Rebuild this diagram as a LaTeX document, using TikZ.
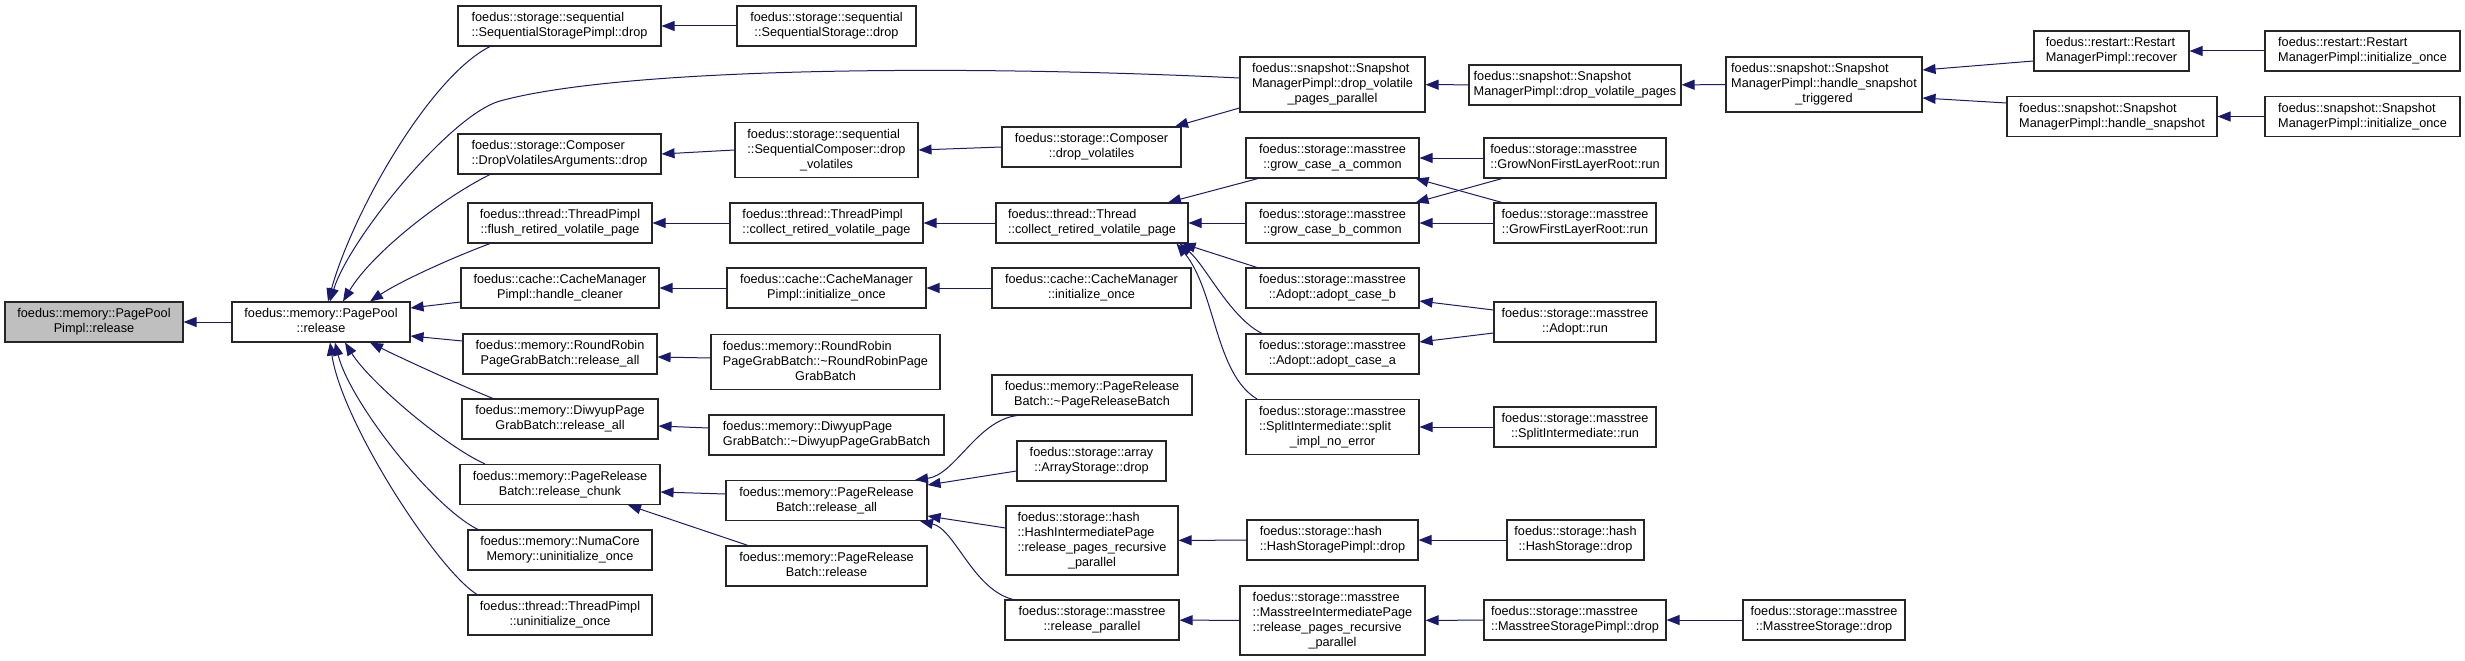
\documentclass[tikz,border=0pt]{standalone}
\usepackage{fontspec}
\setmainfont{Liberation Sans}
\usetikzlibrary{arrows.meta, calc}

\definecolor{edgeblue}{HTML}{191970}
\definecolor{rootgray}{HTML}{BFBFBF}
% all lines left, last line centred (as doxygen sets them)
\newcommand{\fnlabel}[2]{\begin{tabular}{@{}l@{}}#1\\\multicolumn{1}{@{}c@{}}{#2}\end{tabular}}

\begin{document}
\begin{tikzpicture}[x=1pt, y=-1pt,
  every node/.style={font=\fontsize{12.7}{15}\selectfont},
  fn/.style={draw=black!85, line width=1.1pt, fill=white, inner sep=0pt, minimum height=40pt},
  tall/.style={minimum height=55pt},
  taller/.style={minimum height=69pt},
  call/.style={draw=edgeblue, line width=1pt, -{Triangle[length=13pt, width=10pt]}}]
  \useasboundingbox (0,0) rectangle (2465,661);

  % column 0 and 1
  \node[fn, fill=rootgray, minimum width=178pt] (ppimpl) at (94,322) {\fnlabel{foedus::memory::PagePool}{Pimpl::release}};
  \node[fn, minimum width=178pt] (pp) at (321,322) {\fnlabel{foedus::memory::PagePool}{::release}};

  % column 2
  \node[fn, minimum width=203pt] (seqpimpl) at (559.5,26) {\fnlabel{foedus::storage::sequential}{::SequentialStoragePimpl::drop}};
  \node[fn, minimum width=203pt] (dva) at (559.5,154) {\fnlabel{foedus::storage::Composer}{::DropVolatilesArguments::drop}};
  \node[fn, minimum width=184pt] (flush) at (560,223) {\fnlabel{foedus::thread::ThreadPimpl}{::flush\_retired\_volatile\_page}};
  \node[fn, minimum width=198pt] (cleaner) at (560,288) {\fnlabel{foedus::cache::CacheManager}{Pimpl::handle\_cleaner}};
  \node[fn, minimum width=194pt] (rrrel) at (560,354) {\fnlabel{foedus::memory::RoundRobin}{PageGrabBatch::release\_all}};
  \node[fn, minimum width=196pt] (dwrel) at (560,419) {\fnlabel{foedus::memory::DiwyupPage}{GrabBatch::release\_all}};
  \node[fn, minimum width=200pt] (chunk) at (560,484.5) {\fnlabel{foedus::memory::PageRelease}{Batch::release\_chunk}};
  \node[fn, minimum width=184pt] (numa) at (560,550) {\fnlabel{foedus::memory::NumaCore}{Memory::uninitialize\_once}};
  \node[fn, minimum width=184pt] (tpuninit) at (560,615) {\fnlabel{foedus::thread::ThreadPimpl}{::uninitialize\_once}};

  % column 3
  \node[fn, minimum width=179pt] (seqst) at (826.5,26) {\fnlabel{foedus::storage::sequential}{::SequentialStorage::drop}};
  \node[fn, tall, minimum width=183pt] (seqcomp) at (826.5,150) {\fnlabel{foedus::storage::sequential\\::SequentialComposer::drop}{\_volatiles}};
  \node[fn, minimum width=193pt] (tpcollect) at (826.5,223) {\fnlabel{foedus::thread::ThreadPimpl}{::collect\_retired\_volatile\_page}};
  \node[fn, minimum width=199pt] (cmpinit) at (826.5,288) {\fnlabel{foedus::cache::CacheManager}{Pimpl::initialize\_once}};
  \node[fn, tall, minimum width=229pt] (rrdtor) at (825.5,362) {\fnlabel{foedus::memory::RoundRobin\\PageGrabBatch::\textasciitilde RoundRobinPage}{GrabBatch}};
  \node[fn, minimum width=235pt] (dwdtor) at (826.5,435) {\fnlabel{foedus::memory::DiwyupPage}{GrabBatch::\textasciitilde DiwyupPageGrabBatch}};
  \node[fn, minimum width=201pt] (relall) at (826.5,500.5) {\fnlabel{foedus::memory::PageRelease}{Batch::release\_all}};
  \node[fn, minimum width=201pt] (prbrel) at (826.5,566) {\fnlabel{foedus::memory::PageRelease}{Batch::release}};

  % column 4
  \node[fn, minimum width=179pt] (compdv) at (1091.5,147) {\fnlabel{foedus::storage::Composer}{::drop\_volatiles}};
  \node[fn, minimum width=192pt] (thcollect) at (1092,223) {\fnlabel{foedus::thread::Thread}{::collect\_retired\_volatile\_page}};
  \node[fn, minimum width=199pt] (cminit) at (1091.5,288) {\fnlabel{foedus::cache::CacheManager}{::initialize\_once}};
  \node[fn, minimum width=200pt] (prbdtor) at (1092,395) {\fnlabel{foedus::memory::PageRelease}{Batch::\textasciitilde PageReleaseBatch}};
  \node[fn, minimum width=149pt] (arr) at (1091.5,461) {\fnlabel{foedus::storage::array}{::ArrayStorage::drop}};
  \node[fn, taller, minimum width=172pt] (hip) at (1092,540.5) {\fnlabel{foedus::storage::hash\\::HashIntermediatePage\\::release\_pages\_recursive}{\_parallel}};
  \node[fn, minimum width=174pt] (mrp) at (1092,620) {\fnlabel{foedus::storage::masstree}{::release\_parallel}};

  % column 5
  \node[fn, tall, minimum width=185pt] (dvpp) at (1332.5,84.5) {\fnlabel{foedus::snapshot::Snapshot\\ManagerPimpl::drop\_volatile}{\_pages\_parallel}};
  \node[fn, minimum width=173pt] (gca) at (1332.5,158) {\fnlabel{foedus::storage::masstree}{::grow\_case\_a\_common}};
  \node[fn, minimum width=173pt] (gcb) at (1332.5,223) {\fnlabel{foedus::storage::masstree}{::grow\_case\_b\_common}};
  \node[fn, minimum width=173pt] (acb) at (1332.5,288) {\fnlabel{foedus::storage::masstree}{::Adopt::adopt\_case\_b}};
  \node[fn, minimum width=173pt] (aca) at (1332.5,354) {\fnlabel{foedus::storage::masstree}{::Adopt::adopt\_case\_a}};
  \node[fn, tall, minimum width=173pt] (split) at (1332.5,427) {\fnlabel{foedus::storage::masstree\\::SplitIntermediate::split}{\_impl\_no\_error}};
  \node[fn, minimum width=171pt] (hsp) at (1332.5,540) {\fnlabel{foedus::storage::hash}{::HashStoragePimpl::drop}};
  \node[fn, taller, minimum width=185pt] (mip) at (1332.5,620.5) {\fnlabel{foedus::storage::masstree\\::MasstreeIntermediatePage\\::release\_pages\_recursive}{\_parallel}};

  % column 6
  \node[fn, minimum width=212pt] (dvp) at (1575,85) {\fnlabel{foedus::snapshot::Snapshot}{ManagerPimpl::drop\_volatile\_pages}};
  \node[fn, minimum width=182pt] (gnflr) at (1575,158) {\fnlabel{foedus::storage::masstree}{::GrowNonFirstLayerRoot::run}};
  \node[fn, minimum width=162pt] (gflr) at (1575,223) {\fnlabel{foedus::storage::masstree}{::GrowFirstLayerRoot::run}};
  \node[fn, minimum width=162pt] (arun) at (1575,322) {\fnlabel{foedus::storage::masstree}{::Adopt::run}};
  \node[fn, minimum width=162pt] (srun) at (1575,427) {\fnlabel{foedus::storage::masstree}{::SplitIntermediate::run}};
  \node[fn, minimum width=137pt] (hs) at (1575.5,540) {\fnlabel{foedus::storage::hash}{::HashStorage::drop}};
  \node[fn, minimum width=182pt] (msp) at (1575,620) {\fnlabel{foedus::storage::masstree}{::MasstreeStoragePimpl::drop}};

  % column 7 to 9
  \node[fn, tall, minimum width=196pt] (hst) at (1824,84.5) {\fnlabel{foedus::snapshot::Snapshot\\ManagerPimpl::handle\_snapshot}{\_triggered}};
  \node[fn, minimum width=162pt] (ms) at (1824,620) {\fnlabel{foedus::storage::masstree}{::MasstreeStorage::drop}};
  \node[fn, minimum width=155pt] (recover) at (2111.5,51) {\fnlabel{foedus::restart::Restart}{ManagerPimpl::recover}};
  \node[fn, minimum width=210pt] (hsnap) at (2112,116.5) {\fnlabel{foedus::snapshot::Snapshot}{ManagerPimpl::handle\_snapshot}};
  \node[fn, minimum width=195pt] (rinit) at (2362.5,51) {\fnlabel{foedus::restart::Restart}{ManagerPimpl::initialize\_once}};
  \node[fn, minimum width=195pt] (sinit) at (2362.5,116.5) {\fnlabel{foedus::snapshot::Snapshot}{ManagerPimpl::initialize\_once}};

  % callers of PagePool::release
  \draw[call] (pp) -- (ppimpl);
  \draw[call] ([xshift=-69.5pt]seqpimpl.south) .. controls +(-60,30) and +(25,-90) .. ([xshift=7pt]pp.north);
  \draw[call] ([yshift=6.5pt]dvpp.west) .. controls +(-290,-14) and +(120,-33) .. (500,101)
    .. controls +(-50,14) and +(19,-62) .. ([xshift=9pt]pp.north);
  \draw[call] ([xshift=-69.5pt]dva.south) .. controls +(-45,22) and +(30,-50) .. ([xshift=22pt]pp.north);
  \draw[call] ([xshift=-70pt]flush.south) .. controls +(-40,15) and +(30,-20) .. ([xshift=49pt]pp.north);
  \draw[call] ([yshift=-14pt]cleaner.west) -- ([yshift=14pt]pp.east);
  \draw[call] ([yshift=13pt]rrrel.west) -- ([yshift=-14pt]pp.east);
  \draw[call] ([xshift=-67pt]dwrel.north) .. controls +(-30,-12) and +(30,15) .. ([xshift=49pt]pp.south);
  \draw[call] ([xshift=-75pt]chunk.north) .. controls +(-40,-18) and +(25,40) .. ([xshift=24pt]pp.south);
  \draw[call] ([xshift=-82pt]numa.north) .. controls +(-45,-22) and +(15,60) .. ([xshift=14pt]pp.south);
  \draw[call] ([xshift=-83pt]tpuninit.north) .. controls +(-40,-25) and +(12,80) .. ([xshift=9pt]pp.south);

  % upper chains
  \draw[call] (seqst) -- (seqpimpl);
  \draw[call] (seqcomp.west) -- (dva.east);
  \draw[call] (compdv.west) -- (seqcomp.east);
  \draw[call] ([yshift=-23.5pt]dvpp.west) -- ([xshift=83.5pt]compdv.north);
  \draw[call] (dvp) -- (dvpp);
  \draw[call] (hst) -- (dvp);
  \draw[call] ([yshift=-10pt]recover.west) -- ([yshift=14.5pt]hst.east);
  \draw[call] ([yshift=13.5pt]hsnap.west) -- ([yshift=-13.5pt]hst.east);
  \draw[call] (rinit) -- (recover);
  \draw[call] (sinit) -- (hsnap);

  % retired volatile pages
  \draw[call] (tpcollect) -- (flush);
  \draw[call] (thcollect) -- (tpcollect);
  \draw[call] ([xshift=-74.5pt]gca.south) -- ([xshift=76pt]thcollect.north);
  \draw[call] (gcb) -- (thcollect);
  \draw[call] ([xshift=-75.5pt]acb.north) -- ([xshift=-6pt]thcollect.south east);
  \draw[call] ([xshift=-70.5pt]aca.north) .. controls +(-32,-16) and +(26,22) .. ([xshift=-9pt]thcollect.south east);
  \draw[call] ([xshift=-75.5pt]split.north) .. controls +(-42,-25) and +(39,47) .. ([xshift=-12pt]thcollect.south east);
  \draw[call] (gnflr) -- (gca);
  \draw[call] ([xshift=-73pt]gnflr.south) -- ([xshift=-4pt]gcb.north east);
  \draw[call] ([xshift=-73pt]gflr.north) -- ([xshift=-4pt]gca.south east);
  \draw[call] (gflr) -- (gcb);
  \draw[call] ([yshift=12pt]arun.west) -- ([yshift=-13pt]acb.east);
  \draw[call] ([yshift=-11pt]arun.west) -- ([yshift=12pt]aca.east);
  \draw[call] (srun) -- (split);

  % cache manager and grab batches
  \draw[call] (cmpinit) -- (cleaner);
  \draw[call] (cminit) -- (cmpinit);
  \draw[call] ([yshift=4pt]rrdtor.west) -- ([yshift=-3pt]rrrel.east);
  \draw[call] ([yshift=7pt]dwdtor.west) -- ([yshift=-7pt]dwrel.east);

  % page release batch
  \draw[call] ([yshift=6.5pt]relall.west) -- ([yshift=-7.5pt]chunk.east);
  \draw[call] ([xshift=-78.5pt]prbrel.north) -- ([xshift=68pt]chunk.south);
  \draw[call] ([xshift=-75pt]prbdtor.south) .. controls +(-40,5) and +(40,-5) .. ([xshift=88.5pt]relall.north);
  \draw[call] ([yshift=-10pt]arr.west) -- ([yshift=15.5pt]relall.east);
  \draw[call] ([yshift=12.5pt]hip.west) -- ([yshift=-15.5pt]relall.east);
  \draw[call] ([xshift=-79pt]mrp.north) .. controls +(-40,-10) and +(35,8) .. ([xshift=93.5pt]relall.south);
  \draw[call] (hsp) -- (hip);
  \draw[call] (hs) -- (hsp);
  \draw[call] (mip) -- (mrp);
  \draw[call] (msp) -- (mip);
  \draw[call] (ms) -- (msp);
\end{tikzpicture}
\end{document}
